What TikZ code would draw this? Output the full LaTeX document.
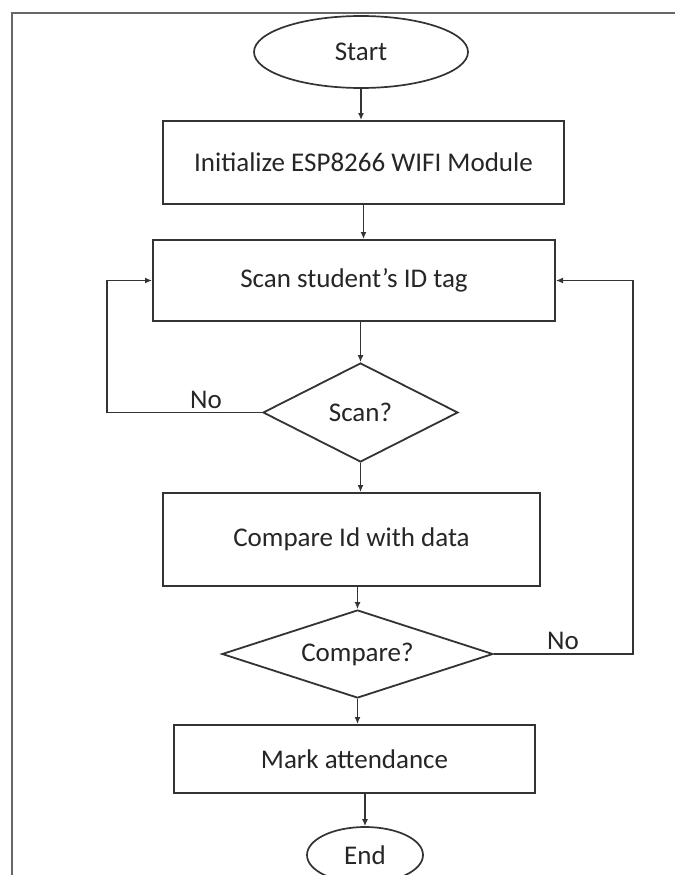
\documentclass[tikz,border=0pt]{standalone}
\usepackage{fontspec}
\setmainfont{Carlito}
\usetikzlibrary{shapes.geometric,arrows.meta}
\definecolor{ln}{HTML}{333333}
\definecolor{tx}{HTML}{262626}
\definecolor{fr}{HTML}{666666}
\tikzset{
  every node/.style={font=\fontsize{27}{31}\selectfont, text=tx},
  boxstyle/.style={draw=ln, line width=2pt, rectangle, inner sep=0pt},
  ovalstyle/.style={draw=ln, line width=1.7pt, ellipse, inner sep=0pt},
  decstyle/.style={draw=ln, line width=1.8pt, diamond, inner sep=0pt, aspect=2},
  arr/.style={draw=ln, line width=1.8pt, -{Latex[length=7pt,width=6pt]}},
  lbl/.style={inner sep=0pt}
}
\begin{document}
\begin{tikzpicture}[x=1pt,y=-1pt]
\useasboundingbox[fill=white] (0,0) rectangle (675,875);
\draw[fr, line width=2.2pt] (12,875) -- (12,13) -- (675,13);

\node[ovalstyle, minimum width=214pt, minimum height=72pt] (start) at (361,52) {Start};
\node[boxstyle, minimum width=401pt, minimum height=83pt] (init) at (363.5,162.5) {Initialize ESP8266 WIFI Module};
\node[boxstyle, minimum width=402pt, minimum height=81pt] (scan) at (354,280.5) {Scan student’s ID tag};
\node[decstyle, minimum width=195pt, minimum height=99pt] (scanq) at (360.5,412.5) {Scan?};
\node[boxstyle, minimum width=377pt, minimum height=93pt] (cmp) at (351.5,539.5) {Compare Id with data};
\node[decstyle, minimum width=271pt, minimum height=88pt] (cmpq) at (357.5,654) {Compare?};
\node[boxstyle, minimum width=361pt, minimum height=68pt] (mark) at (354.5,759) {Mark attendance};
\node[ovalstyle, minimum width=116pt, minimum height=56pt] (end) at (365,855) {End};

\draw[arr] (start.south) -- (start.south |- init.north);
\draw[arr] (init.south) -- (init.south |- scan.north);
\draw[arr] (scanq.north |- scan.south) -- (scanq.north);
\draw[arr] (scanq.south) -- (scanq.south |- cmp.north);
\draw[arr] (cmpq.north |- cmp.south) -- (cmpq.north);
\draw[arr] (cmpq.south) -- (cmpq.south |- mark.north);
\draw[arr] (end.north |- mark.south) -- (end.north);

\coordinate (lx) at (107,0);
\coordinate (rx) at (633,0);
\draw[arr] (scanq.west) -- (lx |- scanq.west) |- (scan.west);
\draw[arr] (cmpq.east) -- (rx |- cmpq.east) |- (scan.east);

\node[lbl] (no1) at (206,400) {No};
\node[lbl] (no2) at (563,641) {No};
\end{tikzpicture}
\end{document}
